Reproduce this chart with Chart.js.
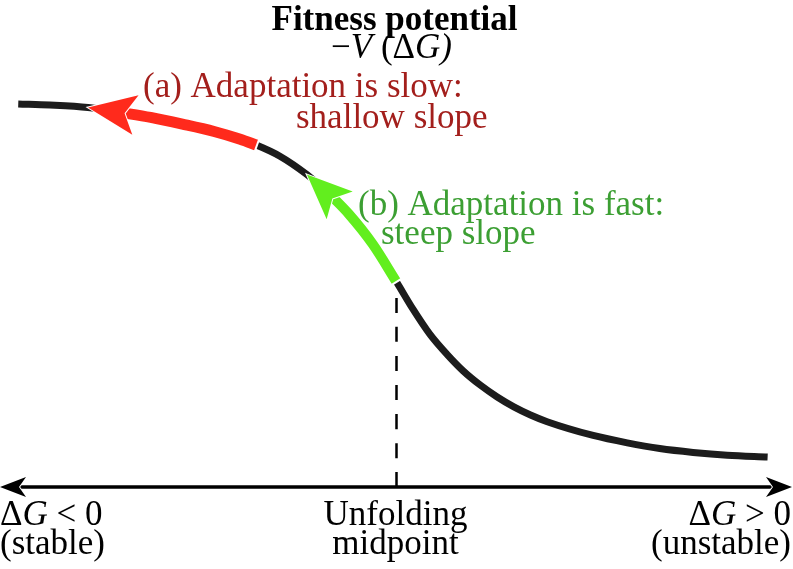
<!DOCTYPE html>
<html>
<head>
<meta charset="utf-8">
<script src="https://cdn.jsdelivr.net/npm/chart.js@4.4.1/dist/chart.umd.min.js"></script>
<style>
  html, body { margin: 0; padding: 0; background: #ffffff; }
  #wrap { width: 793px; height: 569px; }
</style>
</head>
<body>
<div id="wrap"><canvas id="fitness" width="793" height="569"></canvas></div>
<script>
// Stability axis (ΔG, midpoint at 0) and fitness potential -V(ΔG)
const fitX = [-4.77, -4.37, -3.89, -3.50, -3.10, -2.70, -2.30, -1.97, -1.76, -1.47, -1.13, -0.85,
  -0.60, -0.30, 0, 0.21, 0.42, 0.64, 0.84, 1.06, 1.27, 1.48, 1.69, 1.90, 2.48, 2.91, 3.32, 3.74, 4.17, 4.68]
const fitY = [1.000, 0.997, 0.990, 0.977, 0.962, 0.943, 0.922, 0.900, 0.883, 0.852, 0.800, 0.746,
  0.688, 0.603, 0.496, 0.418, 0.348, 0.290, 0.244, 0.203, 0.170, 0.142, 0.119, 0.100, 0.061, 0.040, 0.024, 0.013, 0.005, 0.000]

// arrows on the curve: tip, start of shaft, end of shaft (ΔG)
const slowArrow = [-3.89, -3.50, -1.76]
const fastArrow = [-1.13, -0.85, 0]

const xRange = [-5, 5]
const yRange = [-0.3173, 1.2946]
const axisLevel = -0.085
const midpoint = 0

const titleLines = ["Fitness potential"]
const labelSlow = ["(a) Adaptation is slow:", "shallow slope"]
const labelFast = ["(b) Adaptation is fast:", "steep slope"]
const axisLabelsLeft = ["(stable)"]
const axisLabelsMid = ["Unfolding", "midpoint"]
const axisLabelsRight = ["(unstable)"]

const curve = fitX.map((x, i) => ({ x: x, y: fitY[i] }))
const piece = (from, to) => curve.filter((p) => p.x >= from && p.x <= to)
const yAt = (x) => fitY[fitX.indexOf(x)]

const FONT = '"Liberation Serif", "Times New Roman", serif'

function drawRuns(ctx, runs, x, y, align, color) {
  ctx.fillStyle = color
  ctx.textBaseline = "alphabetic"
  ctx.textAlign = "left"
  let total = 0
  runs.forEach((r) => {
    ctx.font = (r.italic ? "italic " : "") + (r.bold ? "bold " : "") + "35px " + FONT
    r.w = ctx.measureText(r.t).width
    total += r.w
  })
  let cx = align === "center" ? x - total / 2 : align === "right" ? x - total : x
  runs.forEach((r) => {
    ctx.font = (r.italic ? "italic " : "") + (r.bold ? "bold " : "") + "35px " + FONT
    ctx.fillText(r.t, cx, y)
    cx += r.w
  })
}

function arrowHead(ctx, tip, toward, len, half, notch, color) {
  const ang = Math.atan2(toward.y - tip.y, toward.x - tip.x)
  ctx.save()
  ctx.translate(tip.x, tip.y)
  ctx.rotate(ang)
  ctx.beginPath()
  ctx.moveTo(0, 0)
  ctx.lineTo(len, -half)
  ctx.lineTo(len - notch, 0)
  ctx.lineTo(len, half)
  ctx.closePath()
  ctx.fillStyle = color
  ctx.strokeStyle = "#ffffff"
  ctx.lineWidth = 2
  ctx.stroke()
  ctx.fill()
  ctx.restore()
}

const toPx = (chart, p) => ({ x: chart.scales.x.getPixelForValue(p.x), y: chart.scales.y.getPixelForValue(p.y) })

const decorations = {
  id: "decorations",
  afterDatasetsDraw(chart) {
    const ctx = chart.ctx
    const sx = chart.scales.x
    const sy = chart.scales.y

    // white cut at the end of each coloured shaft
    ;[slowArrow, fastArrow].forEach((a) => {
      const pts = piece(a[1], a[2])
      const end = toPx(chart, pts[pts.length - 1])
      const prev = toPx(chart, pts[pts.length - 2])
      const ang = Math.atan2(end.y - prev.y, end.x - prev.x)
      ctx.save()
      ctx.translate(end.x, end.y)
      ctx.rotate(ang)
      ctx.strokeStyle = "#ffffff"
      ctx.lineWidth = 2
      ctx.beginPath()
      ctx.moveTo(0, -8)
      ctx.lineTo(0, 8)
      ctx.stroke()
      ctx.restore()
    })

    // arrowheads on the curve
    const heads = [[slowArrow, "#ff2a1c", 48, 20, 11], [fastArrow, "#62ee1e", 45, 19, 10]]
    heads.forEach(([a, color, len, half, notch]) => {
      const tip = toPx(chart, { x: a[0], y: yAt(a[0]) })
      const pts = piece(a[0], a[2]).map((p) => toPx(chart, p))
      let toward = pts[pts.length - 1]
      for (const p of pts) {
        if (Math.hypot(p.x - tip.x, p.y - tip.y) >= len * 0.9) { toward = p; break }
      }
      arrowHead(ctx, tip, toward, len, half, notch, color)
    })

    // axis arrowheads
    const ay = sy.getPixelForValue(axisLevel)
    const left = sx.getPixelForValue(xRange[0])
    const right = sx.getPixelForValue(xRange[1]) - 1
    arrowHead(ctx, { x: left, y: ay }, { x: left + 10, y: ay }, 26, 10, 7, "#000000")
    arrowHead(ctx, { x: right, y: ay }, { x: right - 10, y: ay }, 26, 10, 7, "#000000")

    // texts
    const cx = sx.getPixelForValue(midpoint)
    drawRuns(ctx, [{ t: titleLines[0], bold: true }], cx - 2, 30, "center", "#000000")
    drawRuns(ctx, [{ t: "\u2212" }, { t: "V", italic: true }, { t: " (\u0394" }, { t: "G)", italic: true }],
      cx - 5, 58, "center", "#000000")

    drawRuns(ctx, [{ t: labelSlow[0] }], 143, 97, "left", "#a31f1c")
    drawRuns(ctx, [{ t: labelSlow[1] }], 296, 128, "left", "#a31f1c")
    drawRuns(ctx, [{ t: labelFast[0] }], 358, 215, "left", "#3c9f33")
    drawRuns(ctx, [{ t: labelFast[1] }], 381, 244, "left", "#3c9f33")

    drawRuns(ctx, [{ t: "\u0394" }, { t: "G", italic: true }, { t: " < 0" }], 0, 525, "left", "#000000")
    drawRuns(ctx, [{ t: axisLabelsLeft[0] }], 0, 554, "left", "#000000")
    drawRuns(ctx, [{ t: axisLabelsMid[0] }], cx - 1, 525, "center", "#000000")
    drawRuns(ctx, [{ t: axisLabelsMid[1] }], cx - 1, 554, "center", "#000000")
    drawRuns(ctx, [{ t: "\u0394" }, { t: "G", italic: true }, { t: " > 0" }], 791, 525, "right", "#000000")
    drawRuns(ctx, [{ t: axisLabelsRight[0] }], 791, 554, "right", "#000000")
  },
}

const line = (data, color, width, order, extra) => Object.assign({
  data: data,
  borderColor: color,
  borderWidth: width,
  order: order,
  pointRadius: 0,
  fill: false,
  cubicInterpolationMode: "monotone",
  borderCapStyle: "butt",
}, extra || {})

new Chart(document.getElementById("fitness").getContext("2d"), {
  type: "line",
  data: {
    datasets: [
      line(piece(slowArrow[1], slowArrow[2]), "#ff2a1c", 11, 0),
      line(piece(fastArrow[1], fastArrow[2]), "#62ee1e", 10, 0),
      line(curve, "#1c1c1c", 7, 1),
      line([{ x: xRange[0] + 0.15, y: axisLevel }, { x: xRange[1] - 0.15, y: axisLevel }], "#000000", 3.5, 2),
      line([{ x: midpoint, y: axisLevel }, { x: midpoint, y: yAt(midpoint) }], "#000000", 2.5, 3, { borderDash: [15, 14] }),
    ],
  },
  options: {
    responsive: false,
    animation: false,
    devicePixelRatio: 1,
    layout: { padding: 0 },
    plugins: { legend: { display: false }, tooltip: { enabled: false }, title: { display: false } },
    scales: {
      x: { type: "linear", display: false, min: xRange[0], max: xRange[1] },
      y: { type: "linear", display: false, min: yRange[0], max: yRange[1] },
    },
  },
  plugins: [decorations],
})
</script>
</body>
</html>
